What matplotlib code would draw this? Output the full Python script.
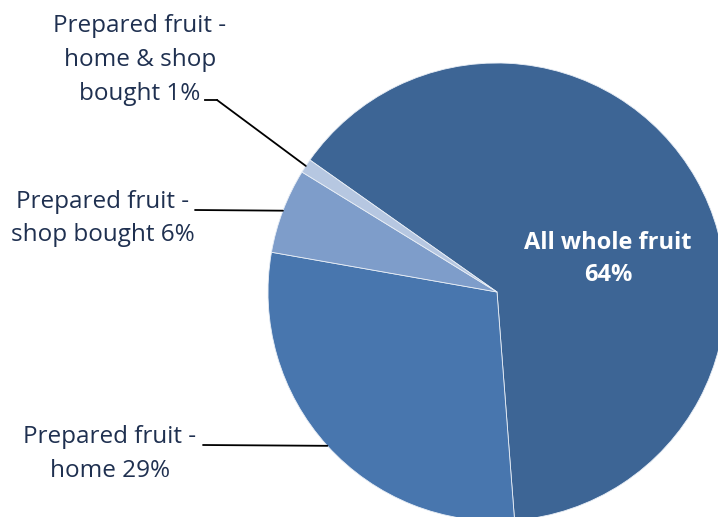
import numpy as np
import matplotlib
matplotlib.use("Agg")
import matplotlib.pyplot as plt

labels = ["All whole fruit\n64%", "Prepared fruit -\nhome 29%",
          "Prepared fruit -\nshop bought 6%", "Prepared fruit -\nhome & shop\nbought 1%"]
shares = [64, 29, 6, 1]
colors = ["#3D6595", "#4876AE", "#7E9DCA", "#B6C7E1"]

W, H = 718, 517
fig = plt.figure(figsize=(W / 100, H / 100), dpi=100)
# pie centre (497, 292) px from top-left, radius 229 px
cx, cy, r = 497, H - 292, 229
ax = fig.add_axes([(cx - r) / W, (cy - r) / H, 2 * r / W, 2 * r / H])
ax.axis("off")

wedges, _ = ax.pie(shares, colors=colors, startangle=144.8, counterclock=False,
                   radius=1, wedgeprops=dict(linewidth=0.6, edgecolor="#E8EEF6"))
for w in wedges:
    w.set_clip_on(False)
ax.set_xlim(-1, 1)
ax.set_ylim(-1, 1)
ax.set_aspect("equal")

txt_col = "#1F3050"
font = "Open Sans"
fs = 17.5
ls = 1.55

# outside labels: (text centre px, leader start px, elbow px or None)
outside = {
    1: ((110, 454), (203, 445), None),
    2: ((103, 218.5), (195, 210), None),
    3: ((140, 60), (205, 100), (217, 100)),
}
for i, (tpos, start, elbow) in outside.items():
    fig.text(tpos[0] / W, 1 - tpos[1] / H, labels[i], ha="center", va="center",
             multialignment="center", fontsize=fs, color=txt_col,
             family=font, linespacing=ls)
    w = wedges[i]
    mid = np.deg2rad((w.theta1 + w.theta2) / 2)
    ex, ey = np.cos(mid), np.sin(mid)
    pts = [start] + ([elbow] if elbow else [])
    xs = [p[0] for p in pts]
    ys = [H - p[1] for p in pts]
    fig.add_artist(plt.Line2D(np.array(xs) / W, np.array(ys) / H, color="black",
                              lw=1.3, transform=fig.transFigure))
    ax.annotate("", xy=(ex, ey), xycoords="data",
                xytext=(pts[-1][0], H - pts[-1][1]), textcoords="figure pixels",
                arrowprops=dict(arrowstyle="-", color="black", lw=1.3,
                                shrinkA=0, shrinkB=0))

fig.text(608 / W, 1 - 259 / H, labels[0], ha="center", va="center",
         multialignment="center", fontsize=17, color="white",
         family=font, weight="bold", linespacing=1.45)

fig.savefig("out.png", dpi=100)
